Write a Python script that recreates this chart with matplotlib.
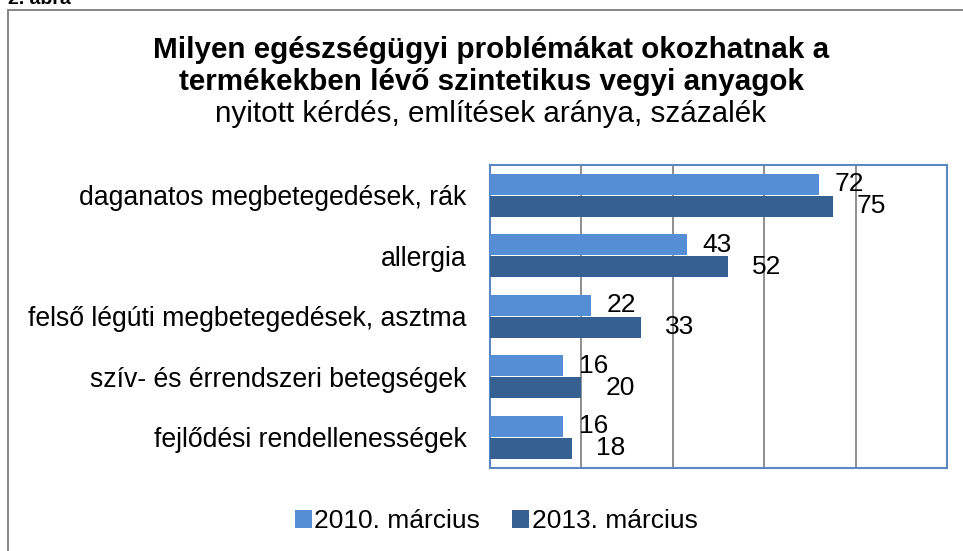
import matplotlib.pyplot as plt
from matplotlib.patches import Patch, Rectangle

# Adatok
kategoriak = ["daganatos megbetegedések, rák", "allergia",
              "felső légúti megbetegedések, asztma",
              "szív- és érrendszeri betegségek", "fejlődési rendellenességek"]
ertekek_2010 = [72, 43, 22, 16, 16]
ertekek_2013 = [75, 52, 33, 20, 18]
sorozatok = ["2010. március", "2013. március"]

szin_2010 = '#558ED5'
szin_2013 = '#376092'

plt.rcParams['font.family'] = ['Liberation Sans', 'DejaVu Sans']

W, H = 963, 551
fig = plt.figure(figsize=(W / 100, H / 100), dpi=100)

# Külső keret
fig.patches.append(Rectangle((8 / W, -0.05), 1.2, 1 - 10 / H + 0.05, transform=fig.transFigure,
                             fill=False, edgecolor='#868686', linewidth=1.4))

fig.text(8 / W, 1 - 4 / H, "2. ábra", fontsize=14, fontweight='bold', va='baseline', ha='left')

fig.text(491 / W, 1 - 50 / H, "Milyen egészségügyi problémákat okozhatnak a",
         fontsize=21.3, fontweight='bold', ha='center', va='center')
fig.text(491 / W, 1 - 82 / H, "termékekben lévő szintetikus vegyi anyagok",
         fontsize=21.3, fontweight='bold', ha='center', va='center')
fig.text(491 / W, 1 - 114 / H, "nyitott kérdés, említések aránya, százalék",
         fontsize=21.3, ha='center', va='center')

ax = fig.add_axes([490 / W, 1 - 467.5 / H, 457 / W, 302.5 / H])

y = list(range(len(kategoriak)))
y1 = [v - 0.18 for v in y]
y2 = [v + 0.18 for v in y]
ax.barh(y1, ertekek_2010, height=0.35, color=szin_2010, zorder=3)
ax.barh(y2, ertekek_2013, height=0.35, color=szin_2013, zorder=3)

for yy, v in zip(y1, ertekek_2010):
    ax.annotate(str(v), (v, yy), xytext=(16, 0), textcoords='offset pixels',
                ha='left', va='center', fontsize=19, zorder=4)
for yy, v in zip(y2, ertekek_2013):
    ax.annotate(str(v), (v, yy), xytext=(24, 0), textcoords='offset pixels',
                ha='left', va='center', fontsize=19, zorder=4)

ax.set_xlim(0, 100)
ax.set_ylim(4.5, -0.5)
ax.set_xticks([20, 40, 60, 80])
ax.set_xticklabels([])
ax.tick_params(axis='x', length=0)
ax.grid(axis='x', color='#868686', linewidth=1.3, zorder=1)
ax.set_yticks(y)
ax.set_yticklabels(kategoriak, fontsize=19.2)
ax.tick_params(axis='y', length=0, pad=17)
for s in ax.spines.values():
    s.set_color('#5B87C2')
    s.set_linewidth(1.5)

kezelok = [Patch(facecolor=szin_2010), Patch(facecolor=szin_2013)]
fig.legend(kezelok, sorozatok, loc='center', bbox_to_anchor=(496 / W, 1 - 521 / H),
           ncol=2, frameon=False, fontsize=19, handlelength=0.65, handleheight=0.65,
           handletextpad=0.1, columnspacing=1.2)

plt.savefig('out.png', dpi=100)
